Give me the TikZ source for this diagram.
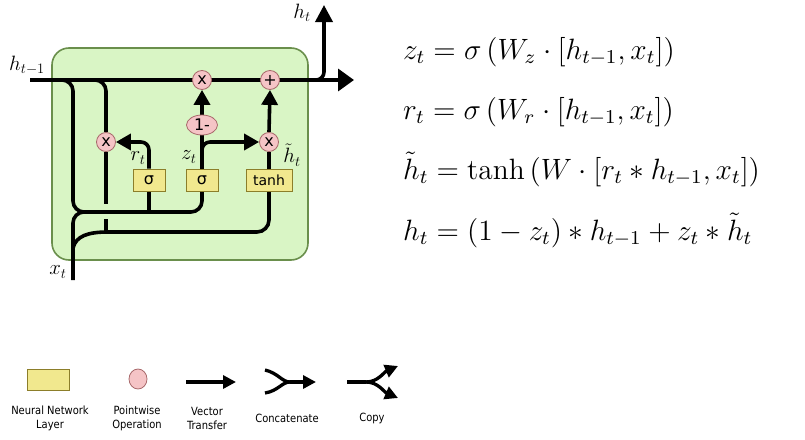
\documentclass[tikz,border=0pt]{standalone}
\usepackage{graphicx}
\usepackage{fontspec}
\newfontfamily\dv{DejaVu Sans}
\newfontfamily\dvc[FakeStretch=0.88]{DejaVu Sans}
\usetikzlibrary{arrows.meta,shapes.geometric}
\definecolor{cellfill}{HTML}{D9F5C5}
\definecolor{celldraw}{HTML}{6A8F4C}
\definecolor{pwfill}{HTML}{F5C4C6}
\definecolor{pwdraw}{HTML}{A8696B}
\definecolor{nnfill}{HTML}{F1E88E}
\definecolor{nndraw}{HTML}{8C7E2A}
\pgfdeclarelayer{bg}\pgfdeclarelayer{lines}
\pgfsetlayers{bg,lines,main}
\newcommand{\bigeq}[1]{\scalebox{2.45}{$#1$}}
\begin{document}
\begin{tikzpicture}[x=1pt,y=-1pt,
  wire/.style={line width=3.6pt, black},
  tip/.style={-{Triangle[length=15pt,width=16pt]}},
  bigtip/.style={-{Triangle[length=16pt,width=22pt]}},
  uptip/.style={-{Triangle[length=17pt,width=17pt]}},
  smalltip/.style={-{Triangle[length=13pt,width=13pt]}},
  pw/.style={ellipse, draw=pwdraw, fill=pwfill, line width=0.8pt, minimum width=19pt, minimum height=19pt, inner sep=0pt, font=\dv\fontsize{16}{16}\selectfont},
  nn/.style={rectangle, draw=nndraw, fill=nnfill, line width=0.8pt, minimum width=32pt, minimum height=22pt, inner sep=0pt, font=\dv\fontsize{16}{16}\selectfont},
  lbl/.style={font=\fontsize{20.74}{21}\selectfont, inner sep=0pt},
  eq/.style={font=\fontsize{12}{14}\selectfont, inner sep=0pt, anchor=base west},
  leg/.style={font=\dvc\fontsize{11.3}{14}\selectfont, align=center, inner sep=0pt}]
\useasboundingbox (0,0) rectangle (805,439);

\begin{pgfonlayer}{bg}
\node[draw=celldraw, fill=cellfill, rounded corners=17pt, line width=1.6pt, minimum width=256pt, minimum height=212pt] (cell) at (180,154) {};
\end{pgfonlayer}

% nodes
\node[pw] (rh) at (106,142) {x};
\node[pw] (m1) at (202,80) {x};
\node[pw] (a1) at (270,80) {+};
\node[pw] (m2) at (269,142) {x};
\node[pw, minimum width=31pt, minimum height=20pt] (om) at (202,125) {1-};
\node[nn] (rbox) at (149,180) {σ};
\node[nn] (zbox) at (202,180) {σ};
\node[nn, minimum width=46pt, font=\dv\fontsize{14}{14}\selectfont] (tbox) at (269,180) {tanh};

\coordinate (hin) at (30,80);
\coordinate (hout) at (354,80);
\coordinate (htop) at (324,5);
\coordinate (xin) at (73,280);
\coordinate (lowy) at (0,212);

\begin{pgfonlayer}{lines}
\draw[wire,bigtip] (hin) -- (hout);
\draw[wire,uptip,rounded corners=8] (305,80) -| (htop);
\draw[wire,rounded corners=11] (55,80) -| (73,212) -| (zbox.south);
\draw[wire,rounded corners=11] (xin) |- (95,212);
\draw[wire] (rbox.south) -- (rbox.south |- lowy);
\draw[wire,rounded corners=11] (88,80) -| (rh.north);
\draw[wire] (rh.south) -- (106,204);
\draw[wire] (106,219) -- (106,233);
\draw[wire] (73,248) .. controls (76,236) and (88,232) .. (108,232) [rounded corners=12] -| (tbox.south);
\draw[wire,tip,rounded corners=8] (rbox.north) |- (rh.east);
\draw[wire] (zbox.north) -- (om.south);
\draw[wire,tip] (om.north) -- (m1.south);
\draw[wire,tip,rounded corners=8] (zbox.north) |- (m2.west);
\draw[wire] (tbox.north) -- (m2.south);
\draw[wire,tip] (m2.north) -- (a1.south);
\end{pgfonlayer}

% labels
\node[lbl] (lh0) at (27,65) {$h_{t-1}$};
\node[lbl] (lht) at (302,13) {$h_t$};
\node[lbl] (lxt) at (58,272) {$x_t$};
\node[lbl] (lrt) at (138,158) {$r_t$};
\node[lbl] (lzt) at (189,157) {$z_t$};
\node[lbl] (lhtt) at (292,155) {$\tilde{h}_t$};

% equations
\node[eq] (e1) at (403,59) {\bigeq{z_t = \sigma\left(W_z\cdot[h_{t-1},x_t]\right)}};
\node[eq] (e2) at (403,119) {\bigeq{r_t = \sigma\left(W_r\cdot[h_{t-1},x_t]\right)}};
\node[eq] (e3) at (403,179) {\bigeq{\tilde{h}_t = \tanh\left(W\cdot[r_t*h_{t-1},x_t]\right)}};
\node[eq] (e4) at (403,240) {\bigeq{h_t = (1-z_t)*h_{t-1}+z_t*\tilde{h}_t}};

% legend
\node[nn, minimum width=42pt, minimum height=21pt] (legnn) at (48,380) {};
\node[pw, minimum width=18pt, minimum height=20pt] (legpw) at (138,379) {};
\coordinate (va) at (186,382);
\coordinate (vb) at (236,382);
\draw[wire,line width=3.3pt,smalltip] (va) -- (vb);
\coordinate (ca) at (265,370);
\coordinate (cb) at (265,393);
\coordinate (cm) at (290,382);
\coordinate (cc) at (316,382);
\draw[wire,line width=3.3pt] (ca) .. controls (278,373) and (282,382) .. (cm);
\draw[wire,line width=3.3pt] (cb) .. controls (278,391) and (282,382) .. (cm);
\draw[wire,line width=3.3pt,smalltip] (cm) -- (cc);
\coordinate (pa) at (347,382);
\coordinate (pm) at (366,382);
\coordinate (pu) at (398,366);
\coordinate (pd) at (398,398);
\draw[wire,line width=3.3pt] (pa) -- (pm);
\draw[wire,line width=3.3pt,smalltip] (pm) .. controls (378,382) and (384,372) .. (pu);
\draw[wire,line width=3.3pt,smalltip] (pm) .. controls (378,382) and (384,392) .. (pd);
\node[leg] (t1) at (50,418) {Neural Network\\Layer};
\node[leg] (t2) at (137,418) {Pointwise\\Operation};
\node[leg] (t3) at (207,418) {Vector\\Transfer};
\node[leg] (t4) at (287,418) {Concatenate};
\node[leg] (t5) at (372,418) {Copy};
\end{tikzpicture}
\end{document}
